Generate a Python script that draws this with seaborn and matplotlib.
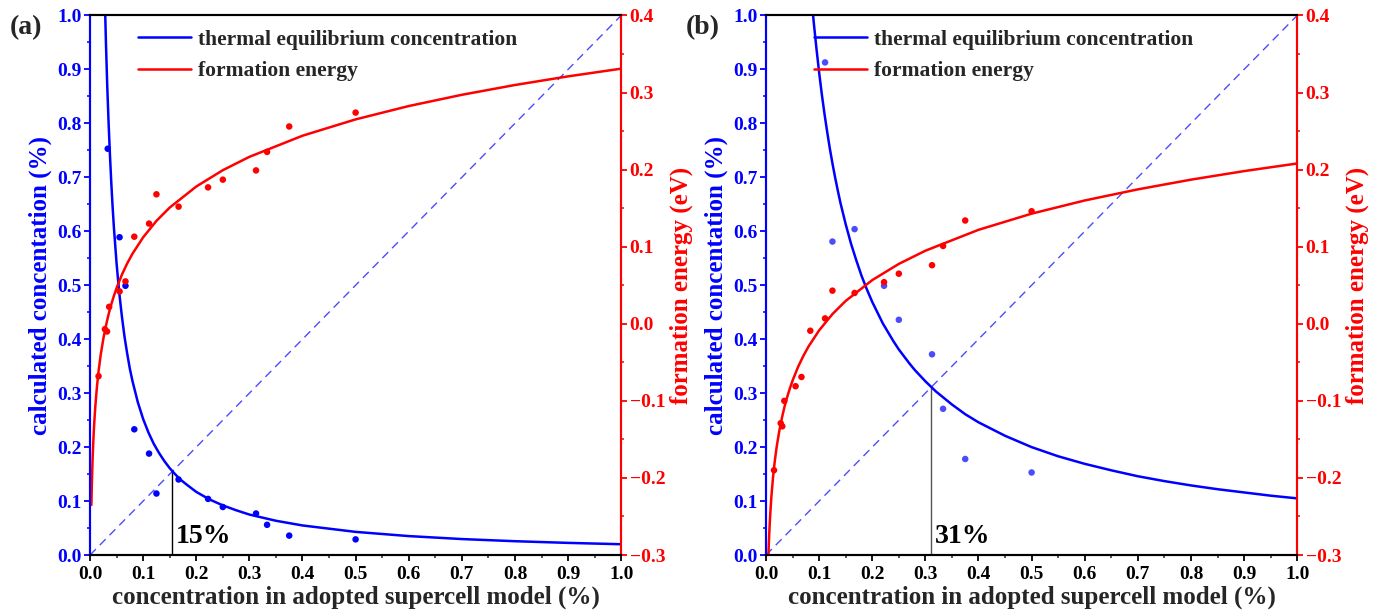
import matplotlib.pyplot as plt
import matplotlib.ticker as mticker
import seaborn as sns

BLUE = "#0000ff"
RED = "#ff0000"

# ---- panel (a) ----
A_CONC_X = [0.0333, 0.0556, 0.0667, 0.0833, 0.1111, 0.125, 0.1667, 0.2222, 0.25, 0.3125, 0.3333, 0.375, 0.5]
A_CONC_Y = [0.753, 0.589, 0.499, 0.233, 0.188, 0.114, 0.140, 0.104, 0.089, 0.077, 0.056, 0.036, 0.029]
A_ENER_X = [0.016, 0.028, 0.032, 0.036, 0.0556, 0.0667, 0.0833, 0.1111, 0.125, 0.1667,
            0.2222, 0.25, 0.3125, 0.3333, 0.375, 0.5]
A_ENER_Y = [-0.068, -0.007, -0.010, 0.022, 0.042, 0.055, 0.113, 0.130, 0.168, 0.152,
            0.177, 0.187, 0.199, 0.223, 0.256, 0.274]

A_FIT_C_X = [0.027, 0.03, 0.0325, 0.035, 0.0375, 0.04, 0.0425, 0.045, 0.05, 0.055, 0.06, 0.065, 0.07,
             0.075, 0.08, 0.09, 0.1, 0.11, 0.12, 0.13, 0.14, 0.15, 0.16, 0.17, 0.18, 0.2, 0.225,
             0.25, 0.275, 0.3, 0.35, 0.4, 0.5, 0.6, 0.7, 0.8, 0.9, 1.0]
A_FIT_C_Y = [1.063, 0.947, 0.866, 0.799, 0.741, 0.690, 0.645, 0.606, 0.540, 0.486, 0.442, 0.404, 0.373,
             0.345, 0.322, 0.283, 0.252, 0.227, 0.206, 0.189, 0.174, 0.161, 0.150, 0.140, 0.132, 0.117,
             0.103, 0.092, 0.083, 0.075, 0.0635, 0.0548, 0.0429, 0.0351, 0.0296, 0.0256, 0.0225, 0.020]
A_FIT_E_X = [0.0025, 0.003, 0.0035, 0.004, 0.005, 0.006, 0.007, 0.008, 0.01, 0.013, 0.016, 0.02, 0.025,
             0.03, 0.035, 0.04, 0.045, 0.05, 0.06, 0.07, 0.08, 0.1, 0.125, 0.15, 0.2, 0.25, 0.3, 0.4,
             0.5, 0.6, 0.7, 0.8, 0.9, 1.0]
A_FIT_E_Y = [-0.235, -0.221, -0.206, -0.1935, -0.172, -0.155, -0.140, -0.1277, -0.1065, -0.0816, -0.0618,
             -0.0406, -0.0195, -0.0022, 0.0126, 0.0252, 0.0364, 0.0464, 0.0638, 0.0784, 0.091, 0.1122,
             0.1335, 0.1508, 0.1781, 0.1993, 0.2166, 0.244, 0.2652, 0.2825, 0.2971, 0.3098, 0.321, 0.331]
A_CROSS = 0.155

# ---- panel (b) ----
B_CONC_X = [0.1111, 0.125, 0.1667, 0.2222, 0.25, 0.3125, 0.3333, 0.375, 0.5]
B_CONC_Y = [0.913, 0.581, 0.604, 0.499, 0.436, 0.372, 0.271, 0.178, 0.153]
B_ENER_X = [0.015, 0.0276, 0.0306, 0.0344, 0.0556, 0.0667, 0.0833, 0.1111, 0.125, 0.1667,
            0.2222, 0.25, 0.3125, 0.3333, 0.375, 0.5]
B_ENER_Y = [-0.190, -0.129, -0.133, -0.100, -0.081, -0.069, -0.009, 0.007, 0.043, 0.040,
            0.054, 0.065, 0.076, 0.101, 0.134, 0.146]

B_FIT_C_X = [0.085, 0.09, 0.095, 0.1, 0.105, 0.11, 0.115, 0.12, 0.125, 0.13, 0.135, 0.14, 0.145, 0.15,
             0.16, 0.17, 0.18, 0.19, 0.2, 0.21, 0.22, 0.24, 0.25, 0.27, 0.28, 0.3, 0.32, 0.35, 0.375,
             0.4, 0.45, 0.5, 0.55, 0.6, 0.65, 0.7, 0.75, 0.8, 0.85, 0.9, 0.95, 1.0]
B_FIT_C_Y = [1.039, 0.9855, 0.938, 0.894, 0.854, 0.818, 0.785, 0.754, 0.726, 0.700, 0.676, 0.653, 0.633,
             0.613, 0.577, 0.546, 0.517, 0.492, 0.469, 0.449, 0.429, 0.396, 0.381, 0.355, 0.343, 0.322,
             0.303, 0.279, 0.261, 0.246, 0.221, 0.200, 0.183, 0.169, 0.157, 0.146, 0.137, 0.129, 0.122,
             0.116, 0.110, 0.105]
B_FIT_E_X = [0.0045, 0.0052, 0.006, 0.007, 0.008, 0.01, 0.013, 0.016, 0.02, 0.025, 0.03, 0.035, 0.04,
             0.045, 0.05, 0.06, 0.07, 0.08, 0.1, 0.125, 0.15, 0.2, 0.25, 0.3, 0.4, 0.5, 0.6, 0.7, 0.8,
             0.9, 1.0]
B_FIT_E_Y = [-0.300, -0.286, -0.273, -0.2584, -0.246, -0.225, -0.2002, -0.1807, -0.1597, -0.1388,
             -0.1217, -0.107, -0.0946, -0.0835, -0.0736, -0.0564, -0.042, -0.0294, -0.0085, 0.0126,
             0.0297, 0.0567, 0.0777, 0.0948, 0.1219, 0.1429, 0.160, 0.1744, 0.187, 0.1981, 0.208]
B_CROSS = 0.311

PANELS = [
    dict(tag="(a)", left=0.0652, cx=A_CONC_X, cy=A_CONC_Y, ex=A_ENER_X, ey=A_ENER_Y,
         fcx=A_FIT_C_X, fcy=A_FIT_C_Y, fex=A_FIT_E_X, fey=A_FIT_E_Y, cross=A_CROSS,
         cross_text="15%", cross_color="black", dot_alpha=1.0),
    dict(tag="(b)", left=0.5547, cx=B_CONC_X, cy=B_CONC_Y, ex=B_ENER_X, ey=B_ENER_Y,
         fcx=B_FIT_C_X, fcy=B_FIT_C_Y, fex=B_FIT_E_X, fey=B_FIT_E_Y, cross=B_CROSS,
         cross_text="31%", cross_color="#555555", dot_alpha=0.7),
]

sns.set_theme(style="ticks")
plt.rcParams["font.family"] = ["Liberation Serif", "DejaVu Serif"]
plt.rcParams["font.weight"] = "bold"
plt.rcParams["axes.labelweight"] = "bold"
plt.rcParams["axes.unicode_minus"] = True

fig = plt.figure(figsize=(13.81, 6.12), dpi=100)

for p in PANELS:
    ax = fig.add_axes([p["left"], 0.0931, 0.3846, 0.8816])
    ax2 = ax.twinx()

    # y = x guide
    sns.lineplot(x=[0.0, 1.0], y=[0.0, 1.0], ax=ax, color=BLUE, alpha=0.7,
                 linewidth=1.0, linestyle=(0, (6, 4)))
    ax.plot([p["cross"], p["cross"]], [0.0, p["cross"]], color=p["cross_color"], linewidth=1.0)

    sns.lineplot(x=p["fcx"], y=p["fcy"], ax=ax, color=BLUE, linewidth=1.8,
                 label="thermal equilibrium concentration")
    sns.scatterplot(x=p["cx"], y=p["cy"], ax=ax, color=BLUE, s=22, edgecolor="none",
                    alpha=p["dot_alpha"], legend=False)

    sns.lineplot(x=p["fex"], y=p["fey"], ax=ax2, color=RED, linewidth=1.8,
                 label="formation energy")
    sns.scatterplot(x=p["ex"], y=p["ey"], ax=ax2, color=RED, s=22, edgecolor="none",
                    legend=False)

    ax.text(p["cross"] + 0.007, 0.022, p["cross_text"], fontsize=20,
            fontweight="bold", color="black")

    ax.set_xlim(0, 1.0)
    ax.set_ylim(0, 1.0)
    ax2.set_ylim(-0.3, 0.4)
    ax.xaxis.set_major_locator(mticker.MultipleLocator(0.1))
    ax.xaxis.set_minor_locator(mticker.MultipleLocator(0.05))
    ax.yaxis.set_major_locator(mticker.MultipleLocator(0.1))
    ax.yaxis.set_minor_locator(mticker.MultipleLocator(0.05))
    ax2.yaxis.set_major_locator(mticker.MultipleLocator(0.1))
    ax2.yaxis.set_minor_locator(mticker.MultipleLocator(0.05))
    ax.xaxis.set_major_formatter(mticker.FormatStrFormatter("%.1f"))
    ax.yaxis.set_major_formatter(mticker.FormatStrFormatter("%.1f"))
    ax2.yaxis.set_major_formatter(mticker.FuncFormatter(lambda v, _: f"{v:.1f}".replace("-", "\u2212")))

    for a in (ax, ax2):
        for s in a.spines.values():
            s.set_linewidth(1.5)
        a.spines["top"].set_color("black")
        a.spines["bottom"].set_color("black")
        a.spines["left"].set_color(BLUE)
        a.spines["right"].set_color(RED)

    ax.tick_params(axis="x", which="major", length=4, width=1.3, labelsize=14, colors="black", pad=4)
    ax.tick_params(axis="x", which="minor", length=2.5, width=1.1)
    ax.tick_params(axis="y", which="major", length=4, width=1.3, labelsize=14, colors=BLUE, pad=2)
    ax.tick_params(axis="y", which="minor", length=2.5, width=1.1, colors=BLUE)
    ax2.tick_params(axis="y", which="major", length=4, width=1.3, labelsize=14, colors=RED, pad=2)
    ax2.tick_params(axis="y", which="minor", length=2.5, width=1.1, colors=RED)
    for lab in ax.get_xticklabels() + ax.get_yticklabels() + ax2.get_yticklabels():
        lab.set_fontweight("bold")

    ax.set_xlabel("concentration in adopted supercell model (%)", fontsize=18, labelpad=2)
    ax.set_ylabel("calculated concentation (%)", fontsize=18, color=BLUE, labelpad=4)
    ax2.set_ylabel("formation energy (eV)", fontsize=18, color=RED, labelpad=3)

    h1, l1 = ax.get_legend_handles_labels()
    h2, l2 = ax2.get_legend_handles_labels()
    if ax.get_legend() is not None:
        ax.get_legend().remove()
    ax2.legend(h1 + h2, l1 + l2, loc="upper left", bbox_to_anchor=(0.053, 1.01), frameon=False,
               handlelength=2.5, handletextpad=0.3, labelspacing=0.55,
               prop={"weight": "bold", "size": 15.5})

    fig.text(p["left"] - 0.058, 0.955, p["tag"], fontsize=20, fontweight="bold", ha="left", va="center")

fig.savefig("out.png", dpi=100)
